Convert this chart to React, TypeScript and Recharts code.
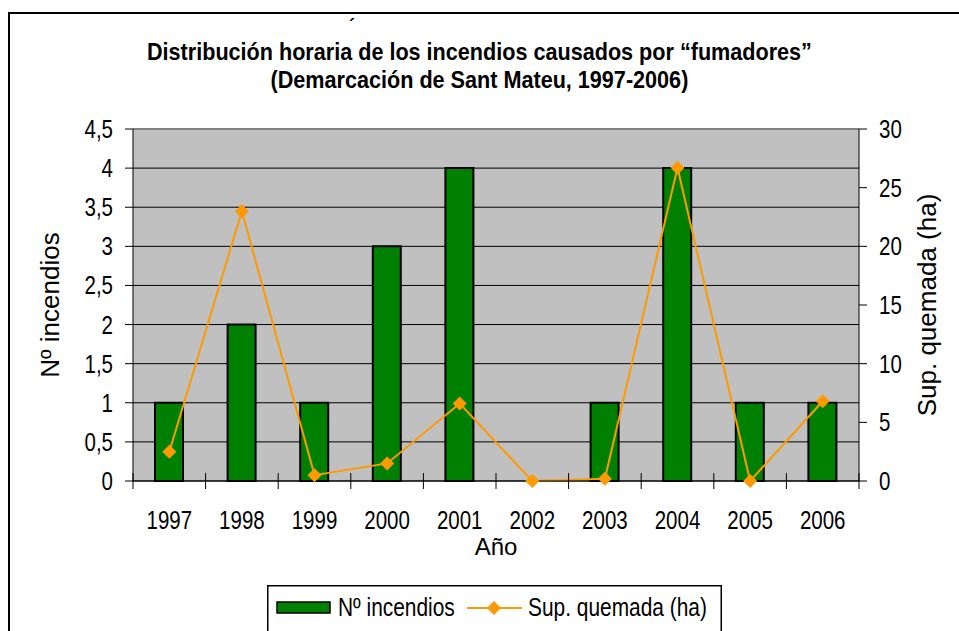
import {
  Bar,
  CartesianGrid,
  ComposedChart,
  Label,
  Legend,
  Line,
  ReferenceLine,
  XAxis,
  YAxis,
} from "recharts";

const years = ["1997", "1998", "1999", "2000", "2001", "2002", "2003", "2004", "2005", "2006"];
const incendios = [1, 2, 1, 3, 4, 0, 1, 4, 1, 1];
const superficie = [2.5, 23, 0.5, 1.5, 6.6, 0, 0.2, 26.7, 0, 6.8];

const leftTicks = [0, 0.5, 1, 1.5, 2, 2.5, 3, 3.5, 4, 4.5];
const rightTicks = [0, 5, 10, 15, 20, 25, 30];

const data = years.map((year, i) => ({
  year,
  incendios: incendios[i],
  superficie: superficie[i],
}));

// no narrow font installed, so Arial-alike squeezed horizontally
const FONT = '"Liberation Sans", Arial, sans-serif';
const SQUEEZE = 0.82;
const GREEN = "#008000";
const ORANGE = "#FF9900";

const fmtComma = (v: number) => String(v).replace(".", ",");

function Diamond(props: any) {
  const { cx, cy } = props;
  if (cx == null || cy == null) return null;
  const r = 7;
  return (
    <polygon
      points={`${cx},${cy - r} ${cx + r},${cy} ${cx},${cy + r} ${cx - r},${cy}`}
      fill={ORANGE}
      stroke="none"
    />
  );
}

function Squeezed({ x, y, anchor, size = 25, children }: any) {
  return (
    <text
      transform={`translate(${x},${y}) scale(${SQUEEZE},1)`}
      textAnchor={anchor}
      fontSize={size}
      fontFamily={FONT}
      fill="#000"
    >
      {children}
    </text>
  );
}

// year label plus Excel-style tick marks between categories
function YearTick(props: any) {
  const { x, y, payload, index } = props;
  const half = payload.offset ?? 0;
  const axisY = y - 8;
  const last = index === years.length - 1;
  return (
    <g>
      <line x1={x - half} x2={x - half} y1={axisY - 8} y2={axisY + 8} stroke="#000" />
      {last && (
        <line x1={x + half} x2={x + half} y1={axisY - 8} y2={axisY + 8} stroke="#000" />
      )}
      <Squeezed x={x} y={axisY + 48} anchor="middle">
        {payload.value}
      </Squeezed>
    </g>
  );
}

function LeftTick(props: any) {
  const { x, y, payload } = props;
  return (
    <Squeezed x={x} y={y + 9} anchor="end">
      {fmtComma(payload.value)}
    </Squeezed>
  );
}

function RightTick(props: any) {
  const { x, y, payload } = props;
  return (
    <Squeezed x={x} y={y + 9} anchor="start">
      {payload.value}
    </Squeezed>
  );
}

function ChartLegend() {
  return (
    <svg width={455} height={56} style={{ display: "block" }}>
      <rect x={0.75} y={0.75} width={453.5} height={60} fill="#fff" stroke="#000" strokeWidth={1.5} />
      <rect x={10} y={17} width={53} height={11} fill={GREEN} stroke="#000" strokeWidth={1.5} />
      <Squeezed x={71} y={31} anchor="start" size={25.5}>
        Nº incendios
      </Squeezed>
      <line x1={200} x2={255} y1={23} y2={23} stroke={ORANGE} strokeWidth={2} />
      <polygon points="227,16 234,23 227,30 220,23" fill={ORANGE} />
      <Squeezed x={261} y={31} anchor="start" size={25.5}>
        Sup. quemada (ha)
      </Squeezed>
    </svg>
  );
}

export default function App() {
  return (
    <div
      style={{
        position: "absolute",
        left: 0,
        top: 0,
        width: 959,
        height: 631,
        overflow: "hidden",
        background: "#fff",
        fontFamily: FONT,
      }}
    >
      <div
        style={{
          position: "absolute",
          left: 8,
          top: 12,
          width: 1000,
          height: 700,
          border: "2px solid #000",
        }}
      />
      <div
        style={{
          position: "absolute",
          left: 349,
          top: 16,
          fontSize: 18,
          fontWeight: "bold",
        }}
      >
        ´
      </div>
      <div
        style={{
          position: "absolute",
          left: 0,
          top: 38,
          width: 959,
          textAlign: "center",
          fontSize: 24,
          fontWeight: "bold",
          lineHeight: "28px",
          color: "#000",
          transform: "scale(0.9, 1)",
          transformOrigin: "479px 0",
        }}
      >
        Distribución horaria de los incendios causados por “fumadores”
        <br />
        (Demarcación de Sant Mateu, 1997-2006)
      </div>
      <div style={{ position: "absolute", left: 0, top: 0 }}>
        <ComposedChart
          width={959}
          height={631}
          data={data}
          margin={{ top: 129, right: 0, left: 0, bottom: 0 }}
          barCategoryGap={0}
        >
          <CartesianGrid
            vertical={false}
            stroke="#000"
            fill="#C0C0C0"
            fillOpacity={1}
            yAxisId="left"
          />
          <XAxis
            dataKey="year"
            height={94}
            tickLine={false}
            axisLine={{ stroke: "#000" }}
            tick={<YearTick />}
            interval={0}
          >
            <Label
              value="Año"
              position="insideTop"
              offset={57}
              fontSize={24}
              fontFamily={FONT}
              fill="#000"
            />
          </XAxis>
          <YAxis
            yAxisId="left"
            width={133}
            domain={[0, 4.5]}
            ticks={leftTicks}
            interval={0}
            tickSize={8}
            tickMargin={12}
            stroke="#000"
            tick={<LeftTick />}
          >
            <Label
              value="Nº incendios"
              angle={-90}
              position="insideLeft"
              offset={50}
              style={{ textAnchor: "middle" }}
              fontSize={26}
              fontFamily={FONT}
              fill="#000"
            />
          </YAxis>
          <YAxis
            yAxisId="right"
            orientation="right"
            width={100}
            domain={[0, 30]}
            ticks={rightTicks}
            interval={0}
            tickSize={8}
            tickMargin={12}
            stroke="#000"
            tick={<RightTick />}
          >
            <Label
              value="Sup. quemada (ha)"
              angle={-90}
              position="insideRight"
              offset={32}
              style={{ textAnchor: "middle" }}
              fontSize={26}
              fontFamily={FONT}
              fill="#000"
            />
          </YAxis>
          <ReferenceLine yAxisId="left" y={4.5} stroke="#808080" strokeWidth={2} />
          <Bar
            yAxisId="left"
            dataKey="incendios"
            name="Nº incendios"
            fill={GREEN}
            stroke="#000"
            strokeWidth={2}
            barSize={28}
            isAnimationActive={false}
          />
          <Line
            yAxisId="right"
            dataKey="superficie"
            name="Sup. quemada (ha)"
            type="linear"
            stroke={ORANGE}
            strokeWidth={2}
            dot={<Diamond />}
            activeDot={false}
            isAnimationActive={false}
          />
          <Legend
            content={<ChartLegend />}
            verticalAlign="bottom"
            height={56}
            wrapperStyle={{ left: 267, width: 455, bottom: -10 }}
          />
        </ComposedChart>
      </div>
    </div>
  );
}
